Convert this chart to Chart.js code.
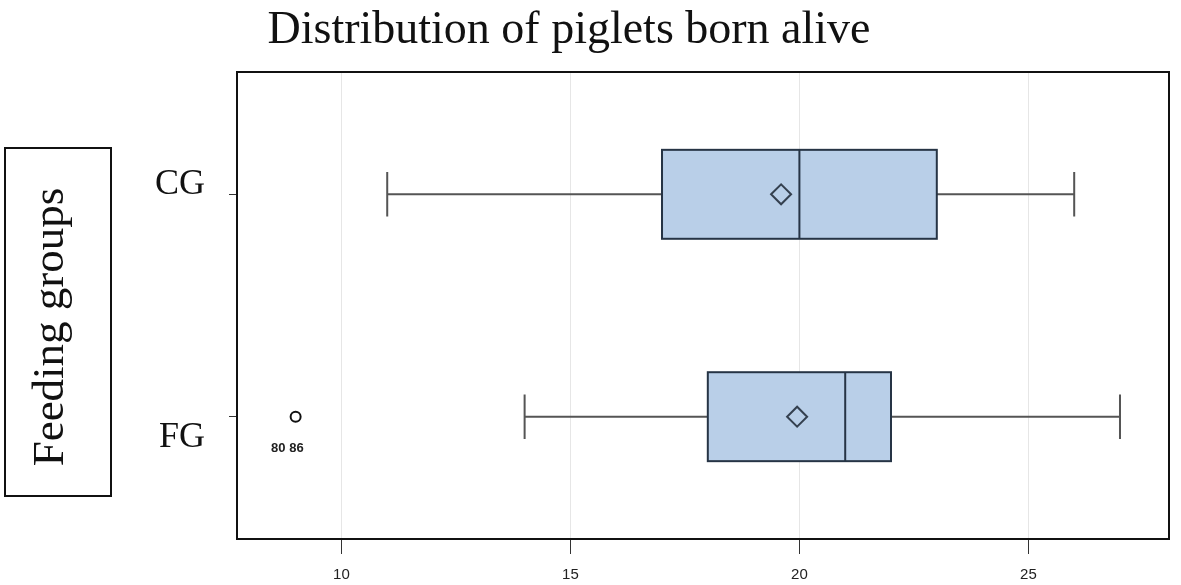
<!DOCTYPE html>
<html>
<head>
<meta charset="utf-8">
<script src="https://cdn.jsdelivr.net/npm/chart.js@4"></script>
<style>
  body { margin: 0; background: #fff; }
  #wrap { width: 1181px; height: 585px; position: relative; }
</style>
</head>
<body>
<div id="wrap"><canvas id="chart"></canvas></div>
<script>
// values
const groups = ['CG', 'FG'];
const whiskerLow = [11, 14];
const q1 = [17, 18];
const median = [20, 21];
const q3 = [23, 22];
const whiskerHigh = [26, 27];
const means = [19.6, 19.95];
const outlierX = [9];
const outlierGroup = [1];
const outlierLabels = ['80 86'];
const xTicks = [10, 15, 20, 25];

const BOX_HALF = 0.2;   // box half height in y units
const CAP_HALF = 0.1;   // whisker cap half height

const serif = '"Liberation Serif", "Times New Roman", serif';

const boxPlugin = {
    id: 'boxes',
    beforeDatasetsDraw(chart) {
        const { ctx, scales: { x, y } } = chart;
        ctx.save();
        groups.forEach((g, i) => {
            const yc = y.getPixelForValue(i);
            const yTop = y.getPixelForValue(i - BOX_HALF);
            const yBot = y.getPixelForValue(i + BOX_HALF);
            const cTop = y.getPixelForValue(i - CAP_HALF);
            const cBot = y.getPixelForValue(i + CAP_HALF);
            const px = v => x.getPixelForValue(v);

            // whiskers
            ctx.strokeStyle = '#555';
            ctx.lineWidth = 2;
            ctx.beginPath();
            ctx.moveTo(px(whiskerLow[i]), yc); ctx.lineTo(px(q1[i]), yc);
            ctx.moveTo(px(q3[i]), yc); ctx.lineTo(px(whiskerHigh[i]), yc);
            ctx.moveTo(px(whiskerLow[i]), cTop); ctx.lineTo(px(whiskerLow[i]), cBot);
            ctx.moveTo(px(whiskerHigh[i]), cTop); ctx.lineTo(px(whiskerHigh[i]), cBot);
            ctx.stroke();

            // box
            ctx.fillStyle = '#b9cfe8';
            ctx.fillRect(px(q1[i]), yTop, px(q3[i]) - px(q1[i]), yBot - yTop);
            ctx.strokeStyle = '#263445';
            ctx.strokeRect(px(q1[i]), yTop, px(q3[i]) - px(q1[i]), yBot - yTop);
            ctx.beginPath();
            ctx.moveTo(px(median[i]), yTop); ctx.lineTo(px(median[i]), yBot);
            ctx.stroke();
        });
        ctx.restore();
    },
    afterDatasetsDraw(chart) {
        const { ctx, chartArea: a, scales: { x, y } } = chart;
        ctx.save();
        // frame
        ctx.strokeStyle = '#111';
        ctx.lineWidth = 2;
        ctx.strokeRect(a.left, a.top, a.right - a.left, a.bottom - a.top);

        // outlier ids
        ctx.fillStyle = '#222';
        ctx.font = '600 13px "Liberation Sans", Arial, sans-serif';
        ctx.textAlign = 'right';
        ctx.textBaseline = 'alphabetic';
        outlierX.forEach((v, k) => {
            ctx.fillText(outlierLabels[k], x.getPixelForValue(v) + 8, y.getPixelForValue(outlierGroup[k]) + 35);
        });

        // category labels (SAS places them a little off the tick)
        const nudge = [-10, 21];
        ctx.font = '36px ' + serif;
        ctx.fillStyle = '#111';
        ctx.textAlign = 'right';
        ctx.textBaseline = 'middle';
        groups.forEach((g, i) => {
            ctx.fillText(g, a.left - 32, y.getPixelForValue(i) + nudge[i]);
        });

        // title
        ctx.font = '46px ' + serif;
        ctx.textAlign = 'center';
        ctx.textBaseline = 'alphabetic';
        ctx.fillText('Distribution of piglets born alive', 569, 43);

        // boxed axis title
        ctx.lineWidth = 2;
        ctx.strokeRect(5, 148, 106, 348);
        ctx.translate(63, 327);
        ctx.rotate(-Math.PI / 2);
        ctx.font = '45px ' + serif;
        ctx.fillText('Feeding groups', 0, 0);
        ctx.restore();
    }
};

new Chart(document.getElementById('chart'), {
    type: 'scatter',
    data: {
        datasets: [
            {
                label: 'Mean',
                data: means.map((m, i) => ({ x: m, y: i })),
                pointStyle: 'rectRot',
                pointRadius: 10,
                borderColor: '#34404f',
                backgroundColor: 'rgba(0,0,0,0)',
                borderWidth: 2
            },
            {
                label: 'Outliers',
                data: outlierX.map((v, k) => ({ x: v, y: outlierGroup[k] })),
                pointStyle: 'circle',
                pointRadius: 5,
                borderColor: '#111',
                backgroundColor: '#fff',
                borderWidth: 2
            }
        ]
    },
    options: {
        responsive: true,
        maintainAspectRatio: false,
        animation: false,
        layout: { padding: { top: 72, right: 0, left: 0, bottom: 0 } },
        plugins: { legend: { display: false }, tooltip: { enabled: false } },
        scales: {
            x: {
                type: 'linear',
                min: 7.72,
                max: 28.07,
                afterBuildTicks: s => { s.ticks = xTicks.map(v => ({ value: v })); },
                afterFit: s => { s.height = 46; },
                border: { display: false },
                grid: { color: '#e6e6e6', tickColor: '#333', tickLength: 15, lineWidth: 1 },
                ticks: {
                    color: '#222',
                    padding: 12,
                    font: { family: '"Liberation Sans", Arial, sans-serif', size: 15 }
                }
            },
            y: {
                type: 'linear',
                min: -0.55,
                max: 1.55,
                reverse: true,
                afterBuildTicks: s => { s.ticks = groups.map((g, i) => ({ value: i })); },
                afterFit: s => { s.width = 237; },
                border: { display: false },
                grid: { drawOnChartArea: false, tickColor: '#333', tickLength: 8 },
                ticks: { display: false }
            }
        }
    },
    plugins: [boxPlugin]
});
</script>
</body>
</html>
